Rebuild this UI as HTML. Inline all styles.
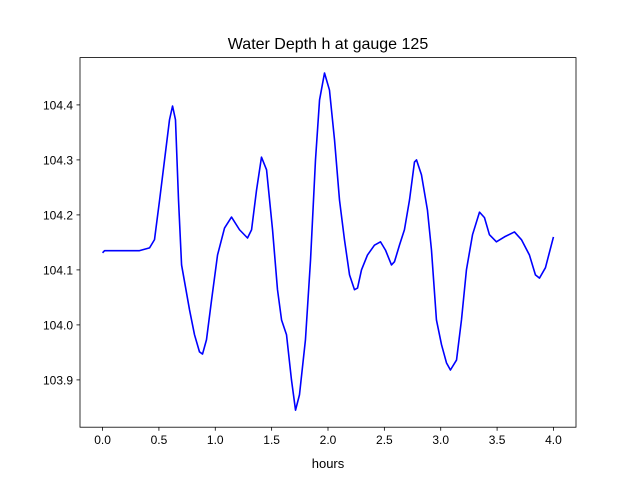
<!DOCTYPE html>
<html><head><meta charset="utf-8"><style>
html,body{margin:0;padding:0;background:#fff;}
svg{display:block;font-family:"Liberation Sans","DejaVu Sans",sans-serif;}
</style></head><body>
<svg id="chart" width="640" height="480" viewBox="0 0 640 480">
<rect width="640" height="480" fill="#fff"/>
<text x="328" y="49" font-size="16" text-anchor="middle">Water Depth h at gauge 125</text>
<g id="plot"></g>
<text x="328" y="468" font-size="13" text-anchor="middle">hours</text>
</svg>
<script>
const hours=[0,0.018,0.328,0.417,0.461,0.506,0.550,0.594,0.621,0.647,0.674,0.701,0.772,0.816,0.860,0.887,0.922,0.967,1.020,1.082,1.144,1.215,1.286,1.322,1.366,1.410,1.455,1.508,1.552,1.588,1.632,1.676,1.712,1.747,1.800,1.845,1.889,1.925,1.969,2.013,2.058,2.102,2.146,2.191,2.235,2.262,2.297,2.350,2.412,2.466,2.510,2.563,2.590,2.634,2.678,2.723,2.767,2.785,2.829,2.882,2.918,2.962,3.007,3.051,3.086,3.140,3.184,3.228,3.282,3.344,3.388,3.432,3.494,3.565,3.654,3.716,3.787,3.840,3.876,3.929,4.0];
const depth=[104.131,104.135,104.135,104.140,104.155,104.227,104.300,104.373,104.398,104.373,104.227,104.109,104.027,103.982,103.951,103.947,103.973,104.045,104.127,104.176,104.196,104.173,104.158,104.173,104.245,104.305,104.282,104.173,104.064,104.009,103.982,103.900,103.845,103.873,103.973,104.118,104.300,104.409,104.458,104.427,104.336,104.227,104.155,104.091,104.064,104.067,104.100,104.127,104.145,104.151,104.136,104.109,104.115,104.145,104.173,104.227,104.296,104.300,104.273,104.209,104.136,104.009,103.964,103.931,103.918,103.936,104.009,104.100,104.164,104.205,104.195,104.164,104.151,104.160,104.169,104.155,104.127,104.091,104.085,104.104,104.160];
const xTicks=[0,0.5,1,1.5,2,2.5,3,3.5,4];
const xTickLabels=["0.0","0.5","1.0","1.5","2.0","2.5","3.0","3.5","4.0"];
const yTicks=[103.9,104.0,104.1,104.2,104.3,104.4];
const yTickLabels=["103.9","104.0","104.1","104.2","104.3","104.4"];

const L=80,R=576,T=57.6,B=427.2;
const xmin=-0.2,xmax=4.2,ymin=103.814,ymax=104.486;
const X=v=>L+(v-xmin)/(xmax-xmin)*(R-L);
const Y=v=>B-(v-ymin)/(ymax-ymin)*(B-T);
const NS="http://www.w3.org/2000/svg";
const g=document.getElementById('plot');
function mk(t,a){const e=document.createElementNS(NS,t);for(const k in a)e.setAttribute(k,a[k]);g.appendChild(e);return e;}

let pts=hours.map((h,i)=>X(h).toFixed(2)+","+Y(depth[i]).toFixed(2)).join(" ");
const line=mk('polyline',{points:pts,fill:'none',stroke:'#0000ff','stroke-width':1.6,'stroke-linejoin':'round'});



const frame=mk('rect',{x:L,y:T,width:R-L,height:B-T,fill:'none',stroke:'#000','stroke-width':0.8});



xTicks.forEach((v,i)=>{
  const tk=mk('line',{x1:X(v),x2:X(v),y1:B,y2:B+3.5,stroke:'#000','stroke-width':0.8});
  
  
  const t=mk('text',{x:X(v),y:B+17,'font-size':12,'text-anchor':'middle'});
  t.textContent=xTickLabels[i];
  
  
});
yTicks.forEach((v,i)=>{
  const tk=mk('line',{x1:L-3.5,x2:L,y1:Y(v),y2:Y(v),stroke:'#000','stroke-width':0.8});
  
  
  const t=mk('text',{x:L-7,y:Y(v)+4.5,'font-size':12,'text-anchor':'end'});
  t.textContent=yTickLabels[i];
  
  
});
</script>
</body></html>
